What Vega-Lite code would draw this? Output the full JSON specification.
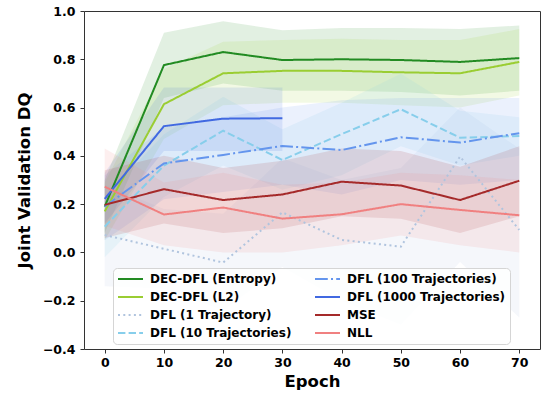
{
  "$schema": "https://vega.github.io/schema/vega-lite/v6.json",
  "autosize": {"type": "none"},
  "padding": {"left": 84, "top": 11, "right": 6, "bottom": 45},
  "width": 456,
  "height": 338,
  "background": "white",
  "config": {
    "font": "DejaVu Sans",
    "view": {"stroke": "#333", "strokeWidth": 1},
    "axis": {
      "grid": false,
      "domain": false,
      "tickColor": "#333",
      "tickSize": 4,
      "labelFont": "DejaVu Sans",
      "labelFontSize": 12.5,
      "labelFontWeight": "bold",
      "labelColor": "black",
      "titleFont": "DejaVu Sans",
      "titleFontSize": 16.5,
      "titleFontWeight": "bold",
      "titleColor": "black"
    },
    "legend": {
      "orient": "none", "legendX": 29, "legendY": 257, "columns": 2,
      "symbolType": "stroke", "symbolSize": 625, "symbolStrokeWidth": 2, "symbolOpacity": 1,
      "labelFont": "DejaVu Sans", "labelFontSize": 12, "labelFontWeight": "bold", "labelColor": "black",
      "labelOffset": 6, "labelLimit": 0, "padding": 4, "rowPadding": 4, "columnPadding": 22,
      "clipHeight": 14,
      "fillColor": "rgba(255,255,255,0.8)", "strokeColor": "#d5d5d5", "cornerRadius": 4
    }
  },
  "data": {
    "values": [
      {"s": "DEC-DFL (Entropy)", "x": 0, "y": 0.19, "lo": 0.08, "hi": 0.30},
      {"s": "DEC-DFL (Entropy)", "x": 10, "y": 0.776, "lo": 0.64, "hi": 0.91},
      {"s": "DEC-DFL (Entropy)", "x": 20, "y": 0.83, "lo": 0.70, "hi": 0.958},
      {"s": "DEC-DFL (Entropy)", "x": 30, "y": 0.797, "lo": 0.67, "hi": 0.92},
      {"s": "DEC-DFL (Entropy)", "x": 40, "y": 0.80, "lo": 0.67, "hi": 0.93},
      {"s": "DEC-DFL (Entropy)", "x": 50, "y": 0.797, "lo": 0.665, "hi": 0.93},
      {"s": "DEC-DFL (Entropy)", "x": 60, "y": 0.789, "lo": 0.65, "hi": 0.925},
      {"s": "DEC-DFL (Entropy)", "x": 70, "y": 0.805, "lo": 0.67, "hi": 0.94},

      {"s": "DEC-DFL (L2)", "x": 0, "y": 0.17, "lo": 0.05, "hi": 0.29},
      {"s": "DEC-DFL (L2)", "x": 10, "y": 0.614, "lo": 0.47, "hi": 0.76},
      {"s": "DEC-DFL (L2)", "x": 20, "y": 0.742, "lo": 0.61, "hi": 0.873},
      {"s": "DEC-DFL (L2)", "x": 30, "y": 0.752, "lo": 0.62, "hi": 0.88},
      {"s": "DEC-DFL (L2)", "x": 40, "y": 0.752, "lo": 0.62, "hi": 0.885},
      {"s": "DEC-DFL (L2)", "x": 50, "y": 0.746, "lo": 0.61, "hi": 0.88},
      {"s": "DEC-DFL (L2)", "x": 60, "y": 0.742, "lo": 0.60, "hi": 0.88},
      {"s": "DEC-DFL (L2)", "x": 70, "y": 0.789, "lo": 0.65, "hi": 0.925},

      {"s": "DFL (1 Trajectory)", "x": 0, "y": 0.072, "lo": -0.14, "hi": 0.28},
      {"s": "DFL (1 Trajectory)", "x": 10, "y": 0.015, "lo": -0.15, "hi": 0.18},
      {"s": "DFL (1 Trajectory)", "x": 20, "y": -0.042, "lo": -0.24, "hi": 0.16},
      {"s": "DFL (1 Trajectory)", "x": 30, "y": 0.166, "lo": -0.06, "hi": 0.39},
      {"s": "DFL (1 Trajectory)", "x": 40, "y": 0.052, "lo": -0.20, "hi": 0.30},
      {"s": "DFL (1 Trajectory)", "x": 50, "y": 0.024, "lo": -0.30, "hi": 0.35},
      {"s": "DFL (1 Trajectory)", "x": 60, "y": 0.397, "lo": -0.04, "hi": 0.60},
      {"s": "DFL (1 Trajectory)", "x": 70, "y": 0.093, "lo": -0.27, "hi": 0.43},

      {"s": "DFL (10 Trajectories)", "x": 0, "y": 0.107, "lo": -0.02, "hi": 0.23},
      {"s": "DFL (10 Trajectories)", "x": 10, "y": 0.36, "lo": 0.23, "hi": 0.49},
      {"s": "DFL (10 Trajectories)", "x": 20, "y": 0.504, "lo": 0.36, "hi": 0.645},
      {"s": "DFL (10 Trajectories)", "x": 30, "y": 0.383, "lo": 0.26, "hi": 0.51},
      {"s": "DFL (10 Trajectories)", "x": 40, "y": 0.49, "lo": 0.32, "hi": 0.62},
      {"s": "DFL (10 Trajectories)", "x": 50, "y": 0.593, "lo": 0.44, "hi": 0.74},
      {"s": "DFL (10 Trajectories)", "x": 60, "y": 0.475, "lo": 0.36, "hi": 0.587},
      {"s": "DFL (10 Trajectories)", "x": 70, "y": 0.482, "lo": 0.40, "hi": 0.56},

      {"s": "DFL (100 Trajectories)", "x": 0, "y": 0.19, "lo": 0.05, "hi": 0.32},
      {"s": "DFL (100 Trajectories)", "x": 10, "y": 0.369, "lo": 0.22, "hi": 0.52},
      {"s": "DFL (100 Trajectories)", "x": 20, "y": 0.404, "lo": 0.25, "hi": 0.56},
      {"s": "DFL (100 Trajectories)", "x": 30, "y": 0.441, "lo": 0.28, "hi": 0.60},
      {"s": "DFL (100 Trajectories)", "x": 40, "y": 0.424, "lo": 0.24, "hi": 0.63},
      {"s": "DFL (100 Trajectories)", "x": 50, "y": 0.477, "lo": 0.30, "hi": 0.64},
      {"s": "DFL (100 Trajectories)", "x": 60, "y": 0.455, "lo": 0.28, "hi": 0.64},
      {"s": "DFL (100 Trajectories)", "x": 70, "y": 0.494, "lo": 0.30, "hi": 0.64},

      {"s": "DFL (1000 Trajectories)", "x": 0, "y": 0.222, "lo": 0.12, "hi": 0.33},
      {"s": "DFL (1000 Trajectories)", "x": 10, "y": 0.523, "lo": 0.42, "hi": 0.683},
      {"s": "DFL (1000 Trajectories)", "x": 20, "y": 0.554, "lo": 0.42, "hi": 0.683},
      {"s": "DFL (1000 Trajectories)", "x": 30, "y": 0.556, "lo": 0.42, "hi": 0.683},

      {"s": "MSE", "x": 0, "y": 0.197, "lo": 0.06, "hi": 0.34},
      {"s": "MSE", "x": 10, "y": 0.262, "lo": 0.12, "hi": 0.40},
      {"s": "MSE", "x": 20, "y": 0.217, "lo": 0.08, "hi": 0.35},
      {"s": "MSE", "x": 30, "y": 0.24, "lo": 0.10, "hi": 0.38},
      {"s": "MSE", "x": 40, "y": 0.293, "lo": 0.15, "hi": 0.43},
      {"s": "MSE", "x": 50, "y": 0.277, "lo": 0.14, "hi": 0.42},
      {"s": "MSE", "x": 60, "y": 0.217, "lo": 0.08, "hi": 0.355},
      {"s": "MSE", "x": 70, "y": 0.297, "lo": 0.15, "hi": 0.44},

      {"s": "NLL", "x": 0, "y": 0.272, "lo": 0.11, "hi": 0.43},
      {"s": "NLL", "x": 10, "y": 0.157, "lo": 0.03, "hi": 0.29},
      {"s": "NLL", "x": 20, "y": 0.186, "lo": 0.0, "hi": 0.33},
      {"s": "NLL", "x": 30, "y": 0.14, "lo": 0.0, "hi": 0.28},
      {"s": "NLL", "x": 40, "y": 0.158, "lo": 0.03, "hi": 0.29},
      {"s": "NLL", "x": 50, "y": 0.2, "lo": 0.07, "hi": 0.33},
      {"s": "NLL", "x": 60, "y": 0.176, "lo": 0.03, "hi": 0.32},
      {"s": "NLL", "x": 70, "y": 0.154, "lo": 0.0, "hi": 0.30}
    ]
  },
  "encoding": {
    "x": {
      "field": "x", "type": "quantitative",
      "scale": {"domain": [-3.5, 73.5], "nice": false, "zero": false},
      "axis": {"title": "Epoch", "values": [0, 10, 20, 30, 40, 50, 60, 70], "labelPadding": 3, "titlePadding": 5}
    }
  },
  "layer": [
    {
      "mark": {"type": "area", "opacity": 0.13},
      "encoding": {
        "y": {"field": "lo", "type": "quantitative"},
        "y2": {"field": "hi"},
        "color": {"field": "s", "type": "nominal"}
      }
    },
    {
      "mark": {"type": "line", "strokeWidth": 2},
      "encoding": {
        "y": {
          "field": "y", "type": "quantitative",
          "scale": {"domain": [-0.4, 1.0], "nice": false, "zero": false},
          "axis": {"title": "Joint Validation DQ", "values": [-0.4, -0.2, 0, 0.2, 0.4, 0.6, 0.8, 1.0], "format": ".1f", "labelPadding": 5, "titlePadding": 10}
        },
        "color": {
          "field": "s", "type": "nominal",
          "scale": {
            "domain": ["DEC-DFL (Entropy)", "DEC-DFL (L2)", "DFL (1 Trajectory)", "DFL (10 Trajectories)", "DFL (100 Trajectories)", "DFL (1000 Trajectories)", "MSE", "NLL"],
            "range": ["#228B22", "#9ACD32", "#B0C4DE", "#87CEEB", "#6495ED", "#4169E1", "#A52A2A", "#F08080"]
          },
          "legend": {"title": null}
        },
        "strokeDash": {
          "field": "s", "type": "nominal",
          "scale": {
            "domain": ["DEC-DFL (Entropy)", "DEC-DFL (L2)", "DFL (1 Trajectory)", "DFL (10 Trajectories)", "DFL (100 Trajectories)", "DFL (1000 Trajectories)", "MSE", "NLL"],
            "range": [[1, 0], [1, 0], [2, 3.3], [7.4, 3.2], [12.8, 3.2, 2, 3.2], [1, 0], [1, 0], [1, 0]]
          },
          "legend": {"title": null}
        }
      }
    }
  ]
}
